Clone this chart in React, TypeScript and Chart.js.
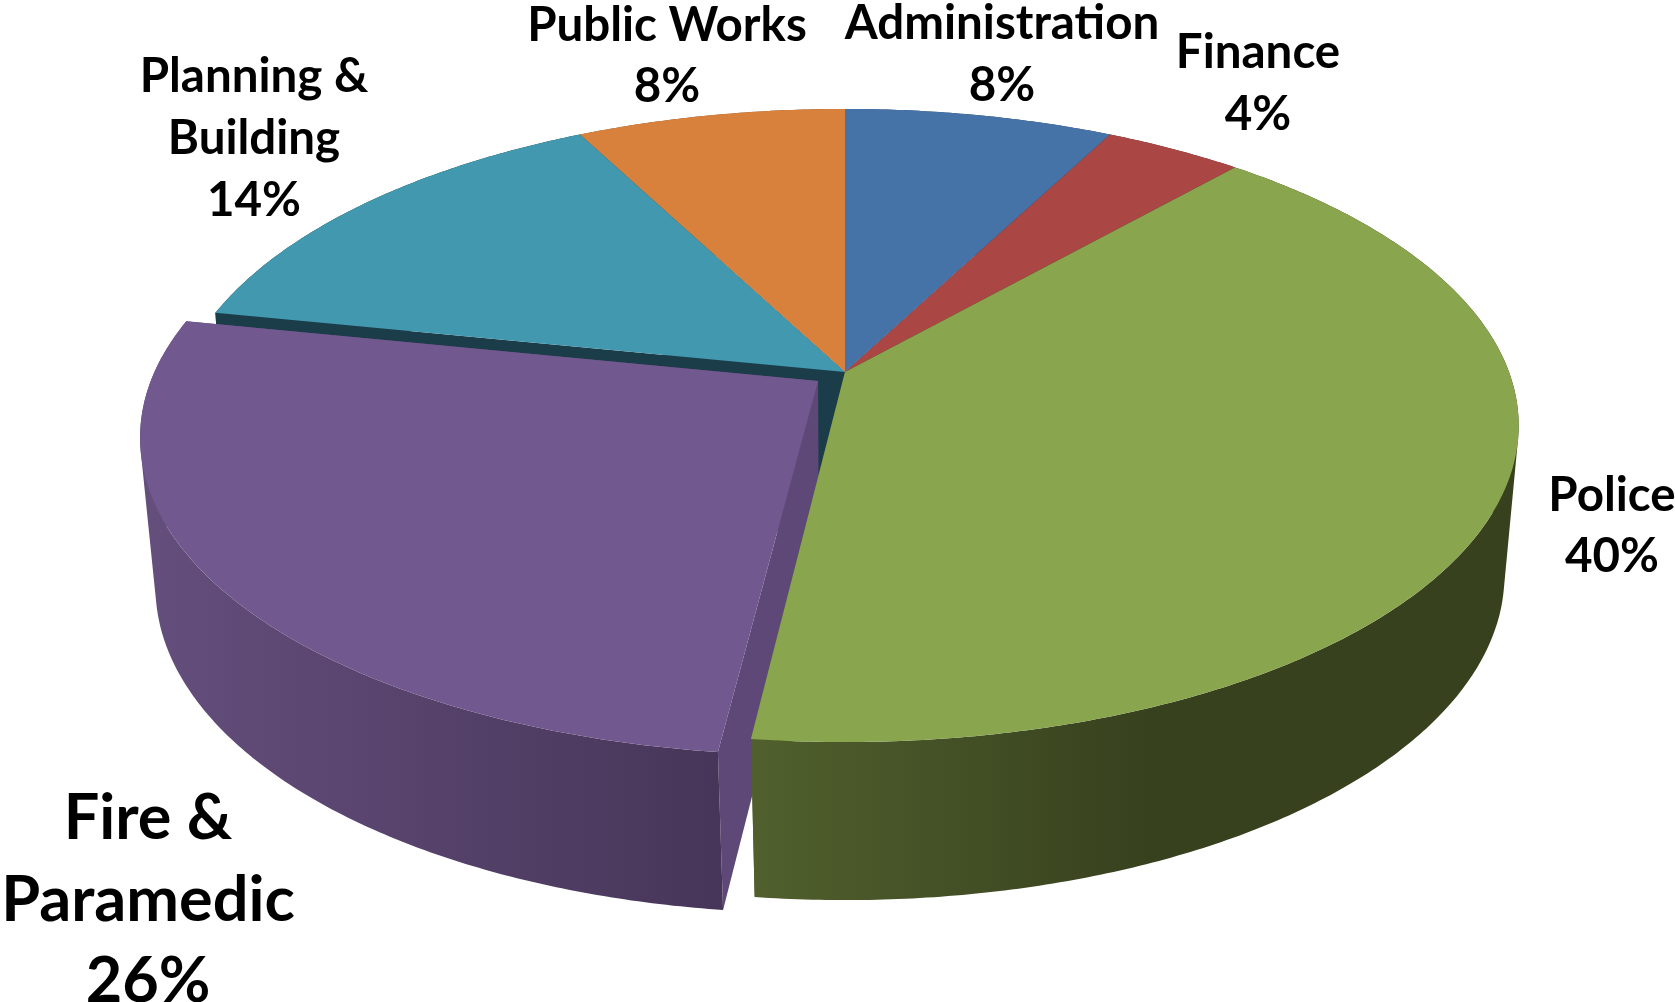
import React, { useEffect, useRef } from "react";
import { Chart, registerables } from "chart.js";

Chart.register(...registerables);

const categories = ["Administration", "Finance", "Police", "Fire & Paramedic", "Planning & Building", "Public Works"];
const sharePercent = [8, 4, 40, 26, 14, 8];
const explodeOffsets = [0, 0, 0, 91, 0, 0];

const labelLines = [["Administration"], ["Finance"], ["Police"], ["Fire &", "Paramedic"], ["Planning &", "Building"], ["Public Works"]];
const labelCentres = [[1002, 24], [1258, 53], [1612, 496], [148, 819], [254, 77], [667, 26]];
const labelFontPx = [47.5, 47.5, 47.5, 63, 47.5, 47.5];
const labelLeading = [62, 62, 61, 81.5, 62, 61];

const topColors = ["#4572A7", "#AA4643", "#89A54E", "#71588F", "#4198AF", "#D8813D"];
const faceColors = ["#2A4565", "#672A28", "#535F2E", "#5E4878", "#1B3D4A", "#854F25"];
const wallRamps = [
  ["#2A4565", "#2A4565"],
  ["#672A28", "#672A28"],
  ["#37411E", "#505F2D"],
  ["#644E7C", "#463558"],
  ["#1B3D4A", "#1B3D4A"],
  ["#854F25", "#854F25"],
];
const wallRampSpans = [[0, 1], [0, 1], [1150, 760], [150, 730], [0, 1], [0, 1]];

// Far slices are underlaid first, with Planning's exposed cut face last; the near slices follow.
const underlayOrder = [5, 0, 1, 4];
const nearOrder = [3, 2];

// Each plane is a perspective view of the unit disc: apex, half axes, foreshortening.
const topPlane = { cx: 845, cy: 372, a: 664, b: 307.5, p: 0.169 };
const basePlane = { cx: 845, cy: 526, a: 652, b: 318, p: 0.15 };
// Sideways compression of rim directions in the tilted view.
const rimSqueeze = 0.94;

type Plane = typeof topPlane;
type Geometry = ReturnType<typeof sliceGeometry>;

function project(plane: Plane, u: number, v: number) {
  const w = 1 - plane.p * v;
  return { x: plane.cx + (plane.a * u) / w, y: plane.cy + (plane.b * v) / w };
}

function sliceGeometry(arc: any) {
  const start = arc.startAngle as number;
  const end = arc.endAngle as number;
  const mid = (start + end) / 2;
  const shift = (arc.options.offset || 0) / 4 / arc.outerRadius;
  return { start, end, ox: shift * Math.cos(mid), oy: shift * Math.sin(mid) };
}

function rimPoints(plane: Plane, g: Geometry) {
  const steps = Math.max(4, Math.ceil((g.end - g.start) / 0.01));
  const pts = [];
  for (let i = 0; i <= steps; i++) {
    const t = g.start + ((g.end - g.start) * i) / steps;
    const du = rimSqueeze * Math.cos(t);
    const dv = Math.sin(t);
    const len = Math.hypot(du, dv);
    pts.push(project(plane, du / len + g.ox, dv / len + g.oy));
  }
  return pts;
}

function fillPolygon(ctx: CanvasRenderingContext2D, pts: { x: number; y: number }[], fill: string | CanvasGradient) {
  ctx.beginPath();
  pts.forEach((p, i) => (i ? ctx.lineTo(p.x, p.y) : ctx.moveTo(p.x, p.y)));
  ctx.closePath();
  ctx.fillStyle = fill;
  ctx.fill();
}

function drawSides(ctx: CanvasRenderingContext2D, g: Geometry, i: number) {
  const top = rimPoints(topPlane, g);
  const base = rimPoints(basePlane, g);
  const topApex = project(topPlane, g.ox, g.oy);
  const baseApex = project(basePlane, g.ox, g.oy);

  // Cut faces along both radial edges of the slice.
  fillPolygon(ctx, [topApex, top[0], base[0], baseApex], faceColors[i]);
  fillPolygon(ctx, [topApex, top[top.length - 1], base[base.length - 1], baseApex], faceColors[i]);

  // Curved outer wall, built as a run of same-winding quads so the silhouette stays convex.
  const [x0, x1] = wallRampSpans[i];
  const ramp = ctx.createLinearGradient(x0, 0, x1, 0);
  ramp.addColorStop(0, wallRamps[i][0]);
  ramp.addColorStop(1, wallRamps[i][1]);
  ctx.beginPath();
  for (let k = 0; k < top.length - 1; k++) {
    const quad = [top[k], top[k + 1], base[k + 1], base[k]];
    let area = 0;
    quad.forEach((p, n) => {
      const q = quad[(n + 1) % 4];
      area += p.x * q.y - q.x * p.y;
    });
    if (area < 0) quad.reverse();
    quad.forEach((p, n) => (n ? ctx.lineTo(p.x, p.y) : ctx.moveTo(p.x, p.y)));
    ctx.closePath();
  }
  ctx.fillStyle = ramp;
  ctx.fill();
}

function drawTop(ctx: CanvasRenderingContext2D, g: Geometry, i: number) {
  fillPolygon(ctx, [project(topPlane, g.ox, g.oy), ...rimPoints(topPlane, g)], topColors[i]);
}

const solidPiePlugin = {
  id: "solidPie",
  beforeDatasetsDraw(chart: any) {
    const ctx: CanvasRenderingContext2D = chart.ctx;
    const arcs = chart.getDatasetMeta(0).data;
    const geometry = arcs.map(sliceGeometry);
    ctx.save();
    underlayOrder.forEach((i) => drawSides(ctx, geometry[i], i));
    underlayOrder.forEach((i) => drawTop(ctx, geometry[i], i));
    nearOrder.forEach((i) => {
      drawSides(ctx, geometry[i], i);
      drawTop(ctx, geometry[i], i);
    });

    // Category name and share, centred line by line.
    const total = sharePercent.reduce((s, n) => s + n, 0);
    ctx.fillStyle = "#000000";
    ctx.textAlign = "center";
    ctx.textBaseline = "middle";
    categories.forEach((_, i) => {
      ctx.font = `700 ${labelFontPx[i]}px Lato`;
      const lines = [...labelLines[i], `${Math.round((sharePercent[i] / total) * 100)}%`];
      lines.forEach((line, n) => {
        ctx.fillText(line, labelCentres[i][0], labelCentres[i][1] + n * labelLeading[i]);
      });
    });
    ctx.restore();
    return false;
  },
};

export default function App() {
  const canvasRef = useRef<HTMLCanvasElement>(null);

  useEffect(() => {
    document.body.style.margin = "0";
    document.body.style.overflow = "hidden";
    const chart = new Chart(canvasRef.current as HTMLCanvasElement, {
      type: "pie",
      data: {
        labels: categories,
        datasets: [
          {
            data: sharePercent,
            backgroundColor: topColors,
            borderWidth: 0,
            offset: explodeOffsets,
          },
        ],
      },
      options: {
        responsive: false,
        animation: false,
        plugins: { legend: { display: false }, tooltip: { enabled: false } },
      },
      plugins: [solidPiePlugin],
    } as any);
    return () => chart.destroy();
  }, []);

  return (
    <div style={{ width: 1675, height: 1002, background: "#ffffff" }}>
      <canvas ref={canvasRef} width={1675} height={1002} style={{ display: "block" }} />
    </div>
  );
}
